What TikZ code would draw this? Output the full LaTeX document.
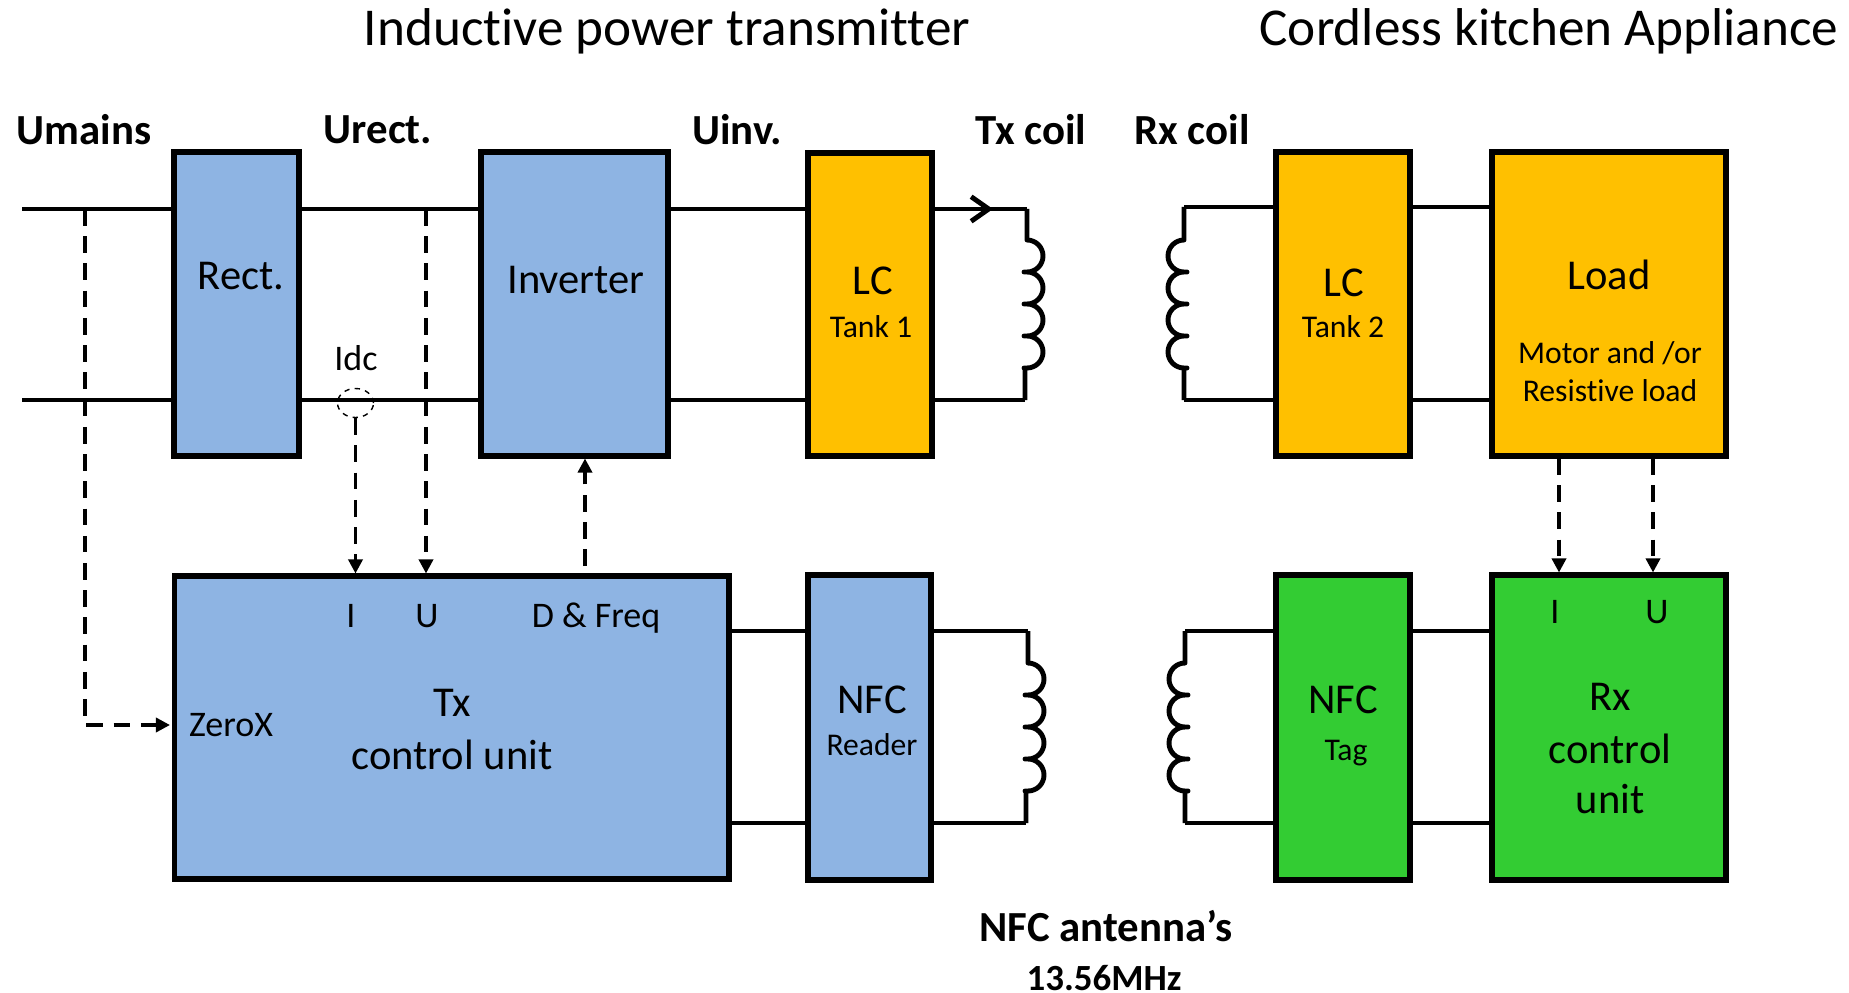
\documentclass[tikz,border=0pt]{standalone}
\usepackage{fontspec}
\setmainfont{Carlito}[Ligatures=CommonOff]
\usetikzlibrary{arrows.meta,shapes.geometric}
\definecolor{txblue}{HTML}{8EB4E3}
\definecolor{tankorange}{HTML}{FFC000}
\definecolor{rxgreen}{HTML}{33CC33}
\tikzset{
    block/.style={shape=rectangle, draw=black, line width=2.9pt, inner sep=0pt},
    wire/.style={-, line width=2.8pt, line join=round},
    sense/.style={dashed, line width=1.9pt, dash pattern=on 9.5pt off 6pt, -{Triangle[length=8pt,width=8pt]}},
    title/.style={font=\fontsize{30.3}{33}\selectfont},
    heading/.style={font=\bfseries\fontsize{24.4}{27}\selectfont},
    big/.style={font=\fontsize{24.2}{27}\selectfont},
    small/.style={font=\fontsize{18}{21}\selectfont},
    tag/.style={font=\fontsize{20.5}{23}\selectfont},
}
\begin{document}
\begin{tikzpicture}[x=0.02cm,y=0.02cm]
\useasboundingbox (0,0) rectangle (1849,-993);

%%%%%%%%%%%%%%%%%%%% Blocks %%%%%%%%%%%%%%%%%%%%%%%%%%

%power path
\node[block, fill=txblue, minimum width=2.5cm, minimum height=6.08cm] (rect) at (236.5,-304) {};
\node[block, fill=txblue, minimum width=3.74cm, minimum height=6.08cm] (inv) at (574.5,-304) {};
\node[block, fill=tankorange, minimum width=2.48cm, minimum height=6.06cm] (tank1) at (870,-304.5) {};
\node[block, fill=tankorange, minimum width=2.68cm, minimum height=6.08cm] (tank2) at (1343,-304) {};
\node[block, fill=tankorange, minimum width=4.68cm, minimum height=6.08cm] (load) at (1609,-304) {};

%control path
\node[block, fill=txblue, minimum width=11.1cm, minimum height=6.06cm] (txctrl) at (451.5,-727.5) {};
\node[block, fill=txblue, minimum width=2.46cm, minimum height=6.1cm] (reader) at (869.5,-727.5) {};
\node[block, fill=rxgreen, minimum width=2.68cm, minimum height=6.1cm] (nfcrx) at (1343,-727.5) {};
\node[block, fill=rxgreen, minimum width=4.68cm, minimum height=6.1cm] (rxctrl) at (1609,-727.5) {};

%%%%%%%%%%%%%%%%%%%% Wires %%%%%%%%%%%%%%%%%%%%%%%%%%

\coordinate (top) at (22,-209);
\coordinate (bot) at (22,-400);
\coordinate (txhead) at (993,-209);
\coordinate (txa) at (1027,-209);
\coordinate (txb) at (1025,-400);
\coordinate (rxa) at (1184,-207);
\coordinate (rxb) at (1184,-400);
\coordinate (nfca) at (1028,-631);
\coordinate (nfcb) at (1026,-823);
\coordinate (taga) at (1185,-631);
\coordinate (tagb) at (1185,-823);

\foreach \index in {top,bot}
{
    \path [wire] (\index) edge (rect.west |- \index);
    \path [wire] (rect.east |- \index) edge (inv.west |- \index);
    \path [wire] (inv.east |- \index) edge (tank1.west |- \index);
}
\draw [wire] (tank1.east |- txa) -- (txa);
\draw [wire, -{Straight Barb[length=10pt,width=14pt]}] (tank1.east |- txa) -- (txhead);
\draw [wire] (tank1.east |- txb) -- (txb);
\draw [wire] (tank2.west |- rxa) -- (rxa);
\draw [wire] (tank2.west |- rxb) -- (rxb);
\draw [wire] (tank2.east |- rxa) -- (load.west |- rxa);
\draw [wire] (tank2.east |- rxb) -- (load.west |- rxb);

\foreach \index in {nfca,nfcb}
{
    \path [wire] (txctrl.east |- \index) edge (reader.west |- \index);
    \path [wire] (reader.east |- \index) edge (\index);
}
\foreach \index in {taga,tagb}
{
    \path [wire] (\index) edge (nfcrx.west |- \index);
    \path [wire] (nfcrx.east |- \index) edge (rxctrl.west |- \index);
}

%%%%%%%%%%%%%%%%%%%% Coils %%%%%%%%%%%%%%%%%%%%%%%%%%

\draw [wire] (txa) -- ++(0,-31) \foreach \index in {1,...,4} { arc (90:-90:16) -- ++(-3,0) -- ++(3,0) } -- ++(-2,0) -- (txb);
\draw [wire] (rxa) -- ++(0,-33) \foreach \index in {1,...,4} { arc (90:270:16) -- ++(3,0) -- ++(-3,0) } -- (rxb);
\draw [wire] (nfca) -- ++(0,-32) \foreach \index in {1,...,4} { arc (90:-90:16) -- ++(-3,0) -- ++(3,0) } -- ++(-2,0) -- (nfcb);
\draw [wire] (taga) -- ++(0,-32) \foreach \index in {1,...,4} { arc (90:270:16) -- ++(3,0) -- ++(-3,0) } -- (tagb);

%%%%%%%%%%%%%%%%%%%% Sense lines %%%%%%%%%%%%%%%%%%%%%%%%%%

\node[ellipse, draw=black, dashed, line width=0.8pt, minimum width=0.72cm, minimum height=0.58cm, inner sep=0pt] (idc) at (355.5,-403) {};
\coordinate (zeroin) at (170,-725);

\draw [sense] (85,-209) -- (85,-725) -- (zeroin);
\draw [sense] (idc.south) -- (txctrl.north -| idc.south);
\draw [sense] (426,-209) -- (txctrl.north -| 426,-209);
\draw [sense] (585,-566) -- (inv.south -| 585,-566);
\draw [sense] (1559,-458) -- (rxctrl.north -| 1559,-458);
\draw [sense] (1653,-458) -- (rxctrl.north -| 1653,-458);

%%%%%%%%%%%%%%%%%%%% Labels %%%%%%%%%%%%%%%%%%%%%%%%%%

\node[title] (txtitle) at (667,-31) {Inductive power transmitter};
\node[title] (rxtitle) at (1549,-31) {Cordless kitchen Appliance};

\node[heading] (umains) at (84,-130) {Umains};
\node[heading] (urect) at (378,-130) {Urect.};
\node[heading] (uinv) at (737,-130) {Uinv.};
\node[heading] (txcoil) at (1031,-130) {Tx coil};
\node[heading] (rxcoil) at (1192,-130) {Rx coil};
\node[heading] (antenna) at (1106,-926) {NFC antenna’s};
\node[heading, inner sep=0pt, font=\bfseries\fontsize{21}{24}\selectfont] (freq) at (1104,-978) {13.56MHz};

\node[big] (rectl) at (241,-276) {Rect.};
\node[big] (invl) at (576,-280) {Inverter};
\node[big] (lc1) at (873,-281) {LC};
\node[small] (tank1l) at (871,-327) {Tank 1};
\node[big] (lc2) at (1344,-283) {LC};
\node[small] (tank2l) at (1343,-327) {Tank 2};
\node[big] (loadl) at (1609,-275) {Load};
\node[small] (motor) at (1610,-353) {Motor and /or};
\node[small] (resload) at (1610,-391) {Resistive load};

\node[tag] (idcl) at (356,-358) {Idc};
\node[tag] (il) at (351,-616) {I};
\node[tag] (ul) at (427,-616) {U};
\node[tag] (dfreq) at (596,-618) {D \& Freq};
\node[tag] (zerox) at (231,-725) {ZeroX};
\node[big] (txl) at (452,-703) {Tx};
\node[big] (ctrll) at (452,-755) {control unit};
\node[big] (nfcl) at (872,-700) {NFC};
\node[small] (readerl) at (872,-745) {Reader};
\node[big] (nfctag) at (1343,-700) {NFC};
\node[small] (tagl) at (1346,-753) {Tag};
\node[tag] (irx) at (1555,-612) {I};
\node[tag] (urx) at (1657,-612) {U};
\node[big] (rxl) at (1610,-697) {Rx};
\node[big] (ctrlrx) at (1610,-749) {control};
\node[big] (unitrx) at (1610,-799) {unit};

\end{tikzpicture}
\end{document}
